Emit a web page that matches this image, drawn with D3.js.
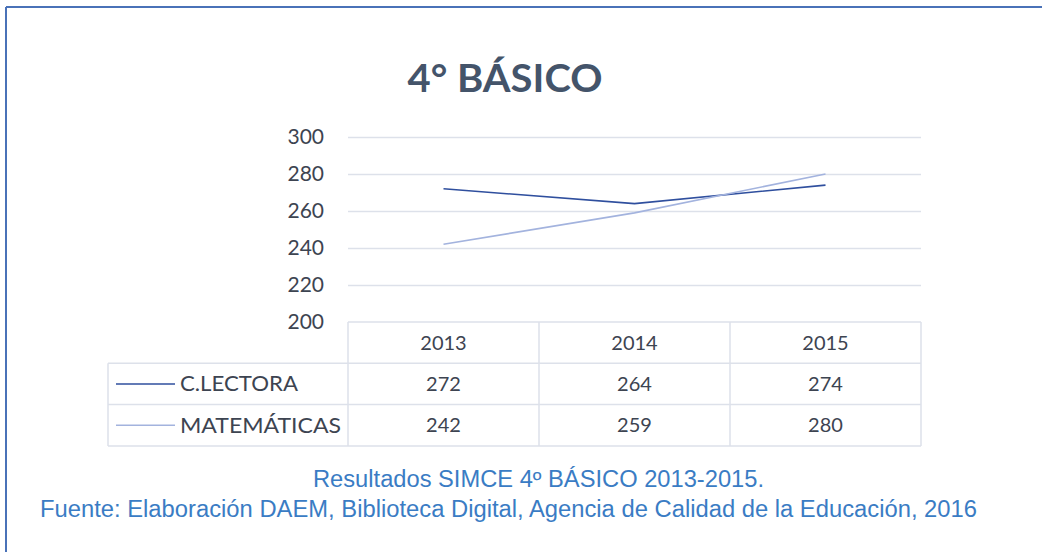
<!DOCTYPE html>
<html>
<head>
<meta charset="utf-8">
<script src="https://cdn.jsdelivr.net/npm/d3@7"></script>
<style>
  body { margin: 0; background: #fff; }
</style>
</head>
<body>
<script>
const years = ['2013', '2014', '2015']
const seriesNames = ['C.LECTORA', 'MATEMÁTICAS']
const lectora = [272, 264, 274]
const matematicas = [242, 259, 280]
const yTicks = [200, 220, 240, 260, 280, 300]
const title = '4° BÁSICO'
const caption1 = 'Resultados SIMCE 4º BÁSICO 2013-2015.'
const caption2 = 'Fuente: Elaboración DAEM, Biblioteca Digital, Agencia de Calidad de la Educación, 2016'

const width = 1042
const height = 552
const plotLeft = 348
const plotRight = 921
const plotTop = 137
const plotBottom = 322
const tableLeft = 108
const rowH = 41.3
const seriesColors = ['#2f4f9e', '#a3b3de']
const gridColor = '#dde1ea'
const textColor = '#3d4451'
const font = 'Lato, "Open Sans", sans-serif'

const svg = d3.select('body').append('svg')
    .attr('width', width)
    .attr('height', height)

// outer frame (top + left edges visible)
svg.append('line')
    .attr('x1', 6).attr('y1', 7).attr('x2', width).attr('y2', 7)
    .attr('stroke', '#4a72b8').attr('stroke-width', 2)
svg.append('line')
    .attr('x1', 6).attr('y1', 7).attr('x2', 6).attr('y2', height)
    .attr('stroke', '#4a72b8').attr('stroke-width', 2)

svg.append('text')
    .attr('x', 505).attr('y', 92)
    .attr('text-anchor', 'middle')
    .attr('font-family', font)
    .attr('font-weight', 'bold')
    .attr('font-size', 39)
    .attr('fill', '#44546a')
    .attr('textLength', 195)
    .attr('lengthAdjust', 'spacingAndGlyphs')
    .text(title)

const x = d3.scaleBand()
    .domain(years)
    .range([plotLeft, plotRight])
const y = d3.scaleLinear()
    .domain([200, 300])
    .range([plotBottom, plotTop])

const yAxis = svg.append('g')
    .attr('transform', `translate(${plotLeft},0)`)
    .call(d3.axisLeft(y).tickValues(yTicks).tickSize(-(plotRight - plotLeft)).tickPadding(24))
yAxis.select('.domain').remove()
yAxis.selectAll('.tick line')
    .attr('stroke', gridColor)
    .attr('stroke-width', 1.3)
    .attr('display', d => d === 200 ? 'none' : null)
yAxis.selectAll('.tick text')
    .attr('font-family', font)
    .attr('font-size', 21)
    .attr('fill', textColor)

const line = d3.line()
    .x((d, i) => x(years[i]) + x.bandwidth() / 2)
    .y(d => y(d))

const seriesData = [lectora, matematicas]
svg.selectAll('path.series')
    .data(seriesData)
    .enter()
    .append('path')
    .attr('class', 'series')
    .attr('d', d => line(d))
    .attr('fill', 'none')
    .attr('stroke', (d, i) => seriesColors[i])
    .attr('stroke-width', 1.6)

// data table
const table = svg.append('g')
const tableBottom = plotBottom + rowH * 3
const gl = (x1, y1, x2, y2) => table.append('line')
    .attr('x1', x1).attr('y1', y1).attr('x2', x2).attr('y2', y2)
    .attr('stroke', gridColor).attr('stroke-width', 1.5)

gl(plotLeft, plotBottom, plotRight, plotBottom)
for (let r = 1; r <= 3; r++) gl(tableLeft, plotBottom + rowH * r, plotRight, plotBottom + rowH * r)
gl(tableLeft, plotBottom + rowH, tableLeft, tableBottom)
gl(plotLeft, plotBottom, plotLeft, tableBottom)
years.forEach(yr => gl(x(yr) + x.bandwidth(), plotBottom, x(yr) + x.bandwidth(), tableBottom))

table.selectAll('text.year')
    .data(years)
    .enter()
    .append('text')
    .attr('x', d => x(d) + x.bandwidth() / 2)
    .attr('y', plotBottom + rowH / 2 + 7)
    .attr('text-anchor', 'middle')
    .attr('font-family', font)
    .attr('font-size', 20)
    .attr('fill', textColor)
    .text(d => d)

const labelWidths = [118, 161]
seriesData.forEach((vals, s) => {
    const cy = plotBottom + rowH * (s + 1) + rowH / 2
    table.append('line')
        .attr('x1', 116).attr('x2', 175)
        .attr('y1', cy).attr('y2', cy)
        .attr('stroke', seriesColors[s]).attr('stroke-width', 1.6)
    table.append('text')
        .attr('x', 180).attr('y', cy + 7.5)
        .attr('font-family', font)
        .attr('font-size', 21)
        .attr('fill', textColor)
        .attr('textLength', labelWidths[s])
        .attr('lengthAdjust', 'spacingAndGlyphs')
        .text(seriesNames[s])
    table.selectAll(null)
        .data(vals)
        .enter()
        .append('text')
        .attr('x', (d, i) => x(years[i]) + x.bandwidth() / 2)
        .attr('y', cy + 7)
        .attr('text-anchor', 'middle')
        .attr('font-family', font)
        .attr('font-size', 20)
        .attr('fill', textColor)
        .text(d => d)
})

svg.append('text')
    .attr('x', 313).attr('y', 487)
    .attr('font-family', '"Liberation Sans", Arial, sans-serif')
    .attr('font-size', 23)
    .attr('fill', '#3a7cc4')
    .attr('textLength', 451)
    .attr('lengthAdjust', 'spacingAndGlyphs')
    .text(caption1)
svg.append('text')
    .attr('x', 40).attr('y', 517)
    .attr('font-family', '"Liberation Sans", Arial, sans-serif')
    .attr('font-size', 23)
    .attr('fill', '#3a7cc4')
    .attr('textLength', 937)
    .attr('lengthAdjust', 'spacingAndGlyphs')
    .text(caption2)
</script>
</body>
</html>
